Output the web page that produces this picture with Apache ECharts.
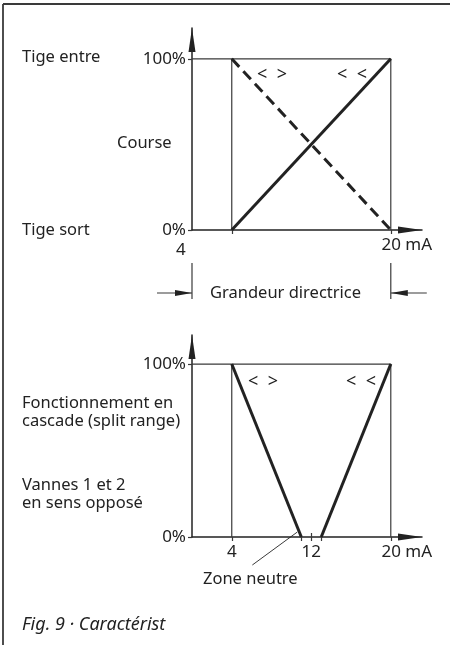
<!DOCTYPE html>
<html>
<head>
<meta charset="utf-8">
<script src="https://cdn.jsdelivr.net/npm/echarts@6/dist/echarts.min.js"></script>
<style>
html, body { margin: 0; padding: 0; background: #fff; }
#chart { width: 450px; height: 645px; }
</style>
</head>
<body>
<div id="chart"></div>
<script>
// signal range (mA) and valve travel (%)
const signalRange = [4, 20]
const travelRising = [0, 100]
const travelFalling = [100, 0]
// split range: valve 1 closes between 4 and 11 mA, valve 2 opens between 13 and 20 mA
const valve1Signal = [4, 11]
const valve1Travel = [100, 0]
const valve2Signal = [13, 20]
const valve2Travel = [0, 100]
const neutralZone = [11, 13]
const yTicks = [0, 100]
const xTicksTop = [4, 20]
const xTicksBottom = [4, 11, 12, 13, 20]
const xLabelsTop = [4, 20]
const xLabelsBottom = [4, 12, 20]

const ink = '#222'
const thin = '#3a3a3a'
const font = 'Noto Sans'
const fs = 16.5
const tickFs = 17

const chart = echarts.init(document.getElementById('chart'))

function pairs(xs, ys) {
    return xs.map((x, i) => [x, ys[i]])
}

function xAxis(grid, ticks, labels, shiftFirst) {
    return {
        type: 'value', gridIndex: grid, min: 0, max: 23.14, position: 'bottom',
        axisLine: {
            show: true, symbol: ['none', 'triangle'], symbolSize: [7, 24], symbolOffset: [0, -12],
            lineStyle: { color: ink, width: 1.5 }
        },
        axisTick: { show: true, customValues: ticks, length: 4, lineStyle: { color: thin, width: 1.2 } },
        axisLabel: {
            customValues: labels, margin: 7, color: ink, fontFamily: font, fontSize: tickFs,
            formatter: (v) => {
                if (v === 20) return '{u|20 mA}'
                if (v === 4 && shiftFirst) return '{s|4}'
                return String(v)
            },
            rich: {
                u: { fontFamily: font, fontSize: tickFs, color: ink, padding: [0, 0, 0, 32] },
                s: { fontFamily: font, fontSize: tickFs, color: ink, padding: [5, 102, 0, 0] }
            }
        },
        splitLine: { show: false }
    }
}

function yAxis(grid, max) {
    return {
        type: 'value', gridIndex: grid, min: 0, max: max,
        axisLine: {
            show: true, symbol: ['none', 'triangle'], symbolSize: [7, 24], symbolOffset: [0, -12],
            lineStyle: { color: ink, width: 1.5 }
        },
        axisTick: { show: true, customValues: yTicks, length: 4, lineStyle: { color: thin, width: 1.2 } },
        axisLabel: {
            customValues: yTicks, margin: 6, color: ink, fontFamily: font, fontSize: tickFs,
            formatter: (v) => v + '%'
        },
        splitLine: { show: false }
    }
}

function thinLine(grid, data) {
    return {
        type: 'line', xAxisIndex: grid, yAxisIndex: grid, data: data, symbol: 'none',
        lineStyle: { color: thin, width: 1.2 }, silent: true, animation: false
    }
}

function thickLine(grid, data, dashed) {
    return {
        type: 'line', xAxisIndex: grid, yAxisIndex: grid, data: data, symbol: 'none',
        lineStyle: { color: ink, width: 3, type: dashed ? [11, 6] : 'solid' }, silent: true, animation: false
    }
}

const boxTop = [[0, 100], [signalRange[1], 100], [signalRange[1], 0]]
const boxLeft = [[signalRange[0], 0], [signalRange[0], 100]]

// extra axis so the 12 mA tick crosses the line
const crossTick = {
    type: 'value', gridIndex: 1, min: 0, max: 23.14, position: 'bottom',
    axisLine: { show: false },
    axisTick: { show: true, inside: true, customValues: [12], length: 4, lineStyle: { color: thin, width: 1.2 } },
    axisLabel: { show: false }, splitLine: { show: false }
}

chart.setOption({
    animation: false,
    grid: [
        { left: 192, top: 28, width: 230, height: 202 },
        { left: 192, top: 335, width: 230, height: 202 }
    ],
    xAxis: [xAxis(0, xTicksTop, xLabelsTop, true), xAxis(1, xTicksBottom, xLabelsBottom, false), crossTick],
    yAxis: [yAxis(0, 118), yAxis(1, 116.8)],
    series: [
        thinLine(0, boxTop),
        thinLine(0, boxLeft),
        thickLine(0, pairs(signalRange, travelRising), false),
        thickLine(0, pairs(signalRange, travelFalling), true),
        thinLine(1, boxTop),
        thinLine(1, boxLeft),
        thickLine(1, pairs(valve1Signal, valve1Travel), false),
        thickLine(1, pairs(valve2Signal, valve2Travel), false)
    ]
})

// annotations positioned from the axes
const p0 = chart.convertToPixel({ gridIndex: 0 }, [0, 0])
const p20 = chart.convertToPixel({ gridIndex: 0 }, [signalRange[1], 0])
const pn = chart.convertToPixel({ gridIndex: 1 }, [neutralZone[0], 0])
const dimY = 293

function text(x, y, s, extra) {
    return {
        type: 'text', x: x, y: y,
        style: Object.assign({ text: s, fill: ink, font: fs + 'px "' + font + '"', verticalAlign: 'middle' }, extra || {})
    }
}

function seg(x1, y1, x2, y2, w) {
    return { type: 'line', shape: { x1: x1, y1: y1, x2: x2, y2: y2 }, style: { stroke: thin, lineWidth: w || 1.2 } }
}

function head(tipX, y, dir) {
    return {
        type: 'polygon',
        shape: { points: [[tipX, y], [tipX - dir * 17, y - 3], [tipX - dir * 17, y + 3]] },
        style: { fill: ink }
    }
}

const bracket = { align: 'center', font: '18px "' + font + '"' }

chart.setOption({
    graphic: [
        seg(3, 4, 450, 4, 1.8),
        seg(3, 4, 3, 645, 1.8),
        text(22, 57, 'Tige entre'),
        text(117, 143, 'Course'),
        text(22, 230, 'Tige sort'),
        text(272, 75, '<  >', bracket),
        text(352, 75, '<  <', bracket),
        seg(p0[0], 263, p0[0], 299),
        seg(p20[0], 263, p20[0], 299),
        seg(p0[0] - 35, dimY, p0[0], dimY),
        head(p0[0], dimY, 1),
        seg(p20[0], dimY, p20[0] + 36, dimY),
        head(p20[0], dimY, -1),
        text(210, dimY, 'Grandeur directrice'),
        text(263, 382, '<  >', bracket),
        text(361, 382, '<  <', bracket),
        text(22, 403, 'Fonctionnement en'),
        text(22, 421, 'cascade (split range)'),
        text(22, 485, 'Vannes 1 et 2'),
        text(22, 503, 'en sens opposé'),
        seg(pn[0] - 49, pn[1] + 28, pn[0] - 4, pn[1] - 5, 1),
        text(203, 579, 'Zone neutre'),
        text(22, 625, 'Fig. 9 · Caractérist', { font: 'italic 18px "' + font + '"' })
    ]
})
</script>
</body>
</html>
